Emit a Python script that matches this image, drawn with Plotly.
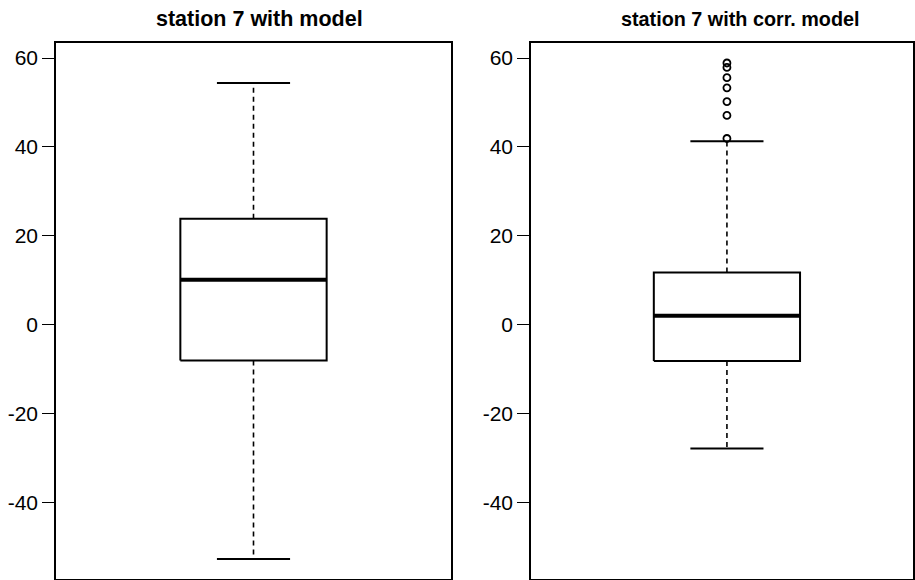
import plotly.graph_objects as go

# Box statistics
panels = ["station 7 with model", "station 7 with corr. model"]
lower_whisker = [-52.8, -27.9]
q1 = [-8.1, -8.2]
median = [10.1, 2.0]
q3 = [23.8, 11.7]
upper_whisker = [54.4, 41.3]
outliers_right = [58.9, 57.9, 55.6, 53.3, 50.2, 47.1, 41.9]
outliers = [[], outliers_right]
y_ticks = [-40, -20, 0, 20, 40, 60]

fig = go.Figure()
BOX_HALF = 0.2
CAP_HALF = 0.1
CENTER = 1.0

for i in range(2):
    xa = "x" if i == 0 else "x2"
    ya = "y" if i == 0 else "y2"
    # whiskers (dashed)
    fig.add_trace(go.Scatter(x=[CENTER, CENTER], y=[q3[i], upper_whisker[i]], mode="lines",
                             line=dict(color="black", width=1.6, dash="5px,4px"),
                             xaxis=xa, yaxis=ya, hoverinfo="skip"))
    fig.add_trace(go.Scatter(x=[CENTER, CENTER], y=[q1[i], lower_whisker[i]], mode="lines",
                             line=dict(color="black", width=1.6, dash="5px,4px"),
                             xaxis=xa, yaxis=ya, hoverinfo="skip"))
    # caps
    for v in (upper_whisker[i], lower_whisker[i]):
        fig.add_trace(go.Scatter(x=[CENTER - CAP_HALF, CENTER + CAP_HALF], y=[v, v], mode="lines",
                                 line=dict(color="black", width=2),
                                 xaxis=xa, yaxis=ya, hoverinfo="skip"))
    # box
    fig.add_trace(go.Scatter(
        x=[CENTER - BOX_HALF, CENTER + BOX_HALF, CENTER + BOX_HALF, CENTER - BOX_HALF, CENTER - BOX_HALF],
        y=[q1[i], q1[i], q3[i], q3[i], q1[i]], mode="lines",
        fill="toself", fillcolor="white",
        line=dict(color="black", width=2), xaxis=xa, yaxis=ya, hoverinfo="skip"))
    # median
    fig.add_trace(go.Scatter(x=[CENTER - BOX_HALF, CENTER + BOX_HALF], y=[median[i], median[i]],
                             mode="lines", line=dict(color="black", width=4),
                             xaxis=xa, yaxis=ya, hoverinfo="skip"))
    # outliers
    if outliers[i]:
        fig.add_trace(go.Scatter(x=[CENTER] * len(outliers[i]), y=outliers[i], mode="markers",
                                 marker=dict(symbol="circle-open", size=7, color="black",
                                             line=dict(width=1.8, color="black")),
                                 xaxis=xa, yaxis=ya, hoverinfo="skip"))

yrange = [-57.3, 63.4]
common_y = dict(range=yrange, tickvals=y_ticks, ticktext=[str(t) for t in y_ticks],
                ticks="outside", ticklen=12, tickwidth=1.2, tickcolor="black",
                showline=True, linecolor="black", linewidth=1.5, mirror=True,
                showgrid=False, zeroline=False, automargin=False,
                tickfont=dict(family="Liberation Sans, Arial", size=21, color="black"))
common_x = dict(showticklabels=False, ticks="", showgrid=False, zeroline=False,
                showline=True, linecolor="black", linewidth=1.5, mirror=True)

W, H = 915, 580
ml, mr, mt, mb = 56, 2, 43, 1
pw = W - ml - mr
d1 = [0, (451 - ml) / pw]
d2 = [(531 - ml) / pw, 1]

fig.update_layout(
    width=W, height=H,
    margin=dict(l=ml, r=mr, t=mt, b=mb, autoexpand=False),
    paper_bgcolor="white", plot_bgcolor="white",
    showlegend=False,
    xaxis=dict(domain=d1, range=[0.46, 1.54], **common_x),
    xaxis2=dict(domain=d2, anchor="y2", range=[0.464, 1.509], **common_x),
    yaxis=dict(anchor="x", **common_y),
    yaxis2=dict(anchor="x2", **common_y),
)

ph = H - mt - mb
title_x = [(259 - ml) / pw, (740 - ml) / pw]
title_size = [21.5, 19.8]
for tx, ts, title in zip(title_x, title_size, panels):
    fig.add_annotation(text="<b>" + title + "</b>", xref="paper", yref="paper",
                       x=tx, y=1 + (43 - 19) / ph,
                       xanchor="center", yanchor="middle", showarrow=False,
                       font=dict(family="Liberation Sans, Arial", size=ts, color="black"))

fig.write_html("out.html", config={"displayModeBar": False},
               post_script="document.body.style.margin='0';document.body.style.overflow='hidden';")
